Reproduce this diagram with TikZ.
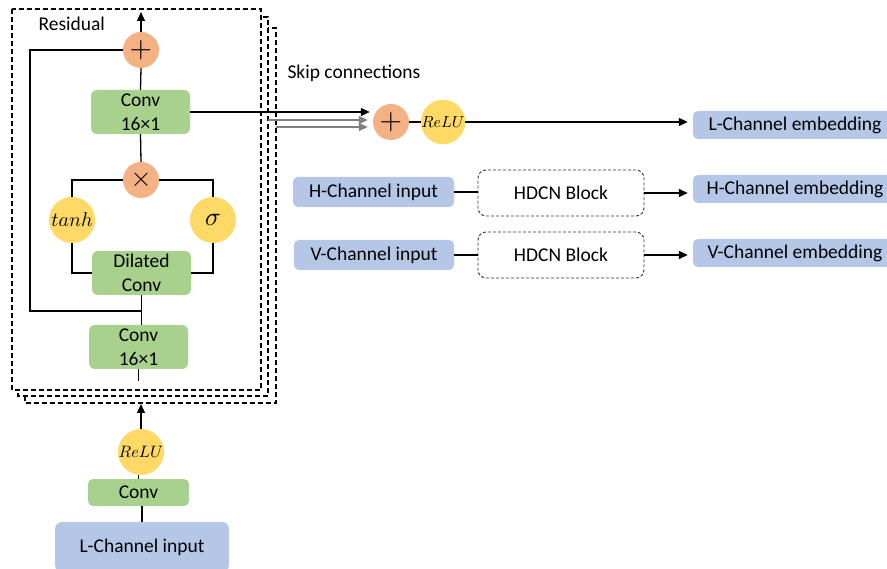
\documentclass[tikz,border=0pt]{standalone}
\usepackage{graphicx}
\usepackage{fontspec}
\setmainfont{Carlito}
\usetikzlibrary{arrows.meta}
\definecolor{cgreen}{HTML}{A9D18E}
\definecolor{corange}{HTML}{F4B183}
\definecolor{cyellow}{HTML}{FFD966}
\definecolor{cblue}{HTML}{B4C7E7}
\begin{document}
\begin{tikzpicture}[x=1pt,y=-1pt,
  font=\fontsize{19.5}{24}\selectfont,
  greenbox/.style={fill=cgreen, rounded corners=6pt, minimum width=99pt, minimum height=44pt, align=center, inner sep=0pt},
  bluebox/.style={fill=cblue, rounded corners=5pt, align=center, inner sep=0pt},
  orangecirc/.style={circle, fill=corange, minimum size=36pt, inner sep=0pt, font=\fontsize{10}{12}\selectfont},
  yellowcirc/.style={circle, fill=cyellow, minimum size=46pt, inner sep=0pt, font=\fontsize{10}{12}\selectfont},
  hdcn/.style={draw=black!80, dash pattern=on 3pt off 2pt, line width=0.9pt, rounded corners=8pt, minimum width=166pt, minimum height=46pt, inner sep=0pt},
  frame/.style={draw=black, dash pattern=on 5pt off 3pt, line width=1.3pt, fill=white},
  conn/.style={draw=black, line width=1.3pt},
  arr/.style={conn, -{Triangle[length=9pt,width=8pt]}},
  grayarr/.style={draw=gray, line width=1.5pt, -{Triangle[length=9pt,width=8pt]}}
]
\useasboundingbox (0,0) rectangle (887,569);
% frames
\draw[frame] (25,28) rectangle (276,403);
\draw[frame] (18,17) rectangle (268,396);
\draw[frame] (12,9) rectangle (261,390);

\node[anchor=west] (res) at (35,24) {Residual};
\node[anchor=west] (skip) at (284,73) {Skip connections};

% residual block
\node[orangecirc] (plus1) at (141,50) {\scalebox{2.9}{$+$}};
\node[greenbox] (conv1) at (140.5,112) {Conv\\16×1};
\node[orangecirc] (times) at (141,180) {\scalebox{2.7}{$\times$}};
\node[yellowcirc] (tanh) at (72,220) {\scalebox{2.0}{$tanh$}};
\node[yellowcirc] (sig) at (213,220) {\scalebox{2.6}{$\sigma$}};
\node[greenbox] (dil) at (141.5,273) {Dilated\\Conv};
\node[greenbox] (conv2) at (138.5,347) {Conv\\16×1};
\coordinate (top) at (141,12);
\coordinate (resL) at (30,311);
\coordinate (c2end) at (138.5,381);

% input stem
\node[yellowcirc] (relu1) at (141,452) {\scalebox{1.65}{$ReLU$}};
\node[greenbox, minimum width=101pt, minimum height=27pt, rounded corners=5pt] (conv3) at (138.5,492.5) {Conv};
\node[bluebox, minimum width=174pt, minimum height=50pt, rounded corners=7pt] (lin) at (142,547) {L-Channel input};
\coordinate (fin) at (141,404);

% right part
\node[orangecirc] (plus2) at (391,122) {\scalebox{2.9}{$+$}};
\node[yellowcirc, minimum size=44pt] (relu2) at (443,122) {\scalebox{1.6}{$ReLU$}};
\node[bluebox, minimum width=204pt, minimum height=28pt] (lemb) at (795,125) {L-Channel embedding};
\node[bluebox, minimum width=204pt, minimum height=28pt] (hemb) at (795,189) {H-Channel embedding};
\node[bluebox, minimum width=204pt, minimum height=28pt] (vemb) at (795,253) {V-Channel embedding};
\node[bluebox, minimum width=161pt, minimum height=30pt] (hin) at (373.5,192) {H-Channel input};
\node[bluebox, minimum width=160pt, minimum height=30pt] (vin) at (374,255) {V-Channel input};
\node[hdcn] (h1) at (561,193) {HDCN Block};
\node[hdcn] (h2) at (561,255) {HDCN Block};
\coordinate (g1) at (268,120);
\coordinate (g2) at (276,127);

% connectors in block
\draw[arr] (plus1.north) -- (top);
\draw[conn] (conv1.north) -- (plus1.south);
\draw[conn] (times.north) -- (conv1.south);
\draw[conn] (times.west) -| (tanh.north);
\draw[conn] (times.east) -| (sig.north);
\draw[conn] (tanh.south) |- (dil.west);
\draw[conn] (sig.south) |- (dil.east);
\draw[conn] (dil.south) -- (dil.south |- conv2.north);
\draw[conn] (plus1.west) -| (resL) -- (resL -| dil.south);
\draw[conn] (conv2.south) -- (c2end);

% stem connectors
\draw[conn] (lin.north) -- (lin.north |- conv3.south);
\draw[conn] (conv3.north) -- (conv3.north |- relu1.south);
\draw[arr] (relu1.north) -- (fin);

% skip connections
\draw[arr] (conv1.east) -- ([xshift=-3pt]conv1.east -| plus2.west);
\draw[grayarr] (g1) -- ([xshift=-5pt]g1 -| plus2.west);
\draw[grayarr] (g2) -- ([xshift=-5pt]g2 -| plus2.west);
\draw[conn] (plus2.east) -- (relu2.west);
\draw[arr] (relu2.east) -- ([xshift=-5pt]relu2.east -| lemb.west);

\draw[conn] (hin.east) -- (hin.east -| h1.west);
\draw[arr] (h1.east) -- ([xshift=-5pt]h1.east -| hemb.west);
\draw[conn] (vin.east) -- (vin.east -| h2.west);
\draw[arr] (h2.east) -- ([xshift=-5pt]h2.east -| vemb.west);
\end{tikzpicture}
\end{document}
